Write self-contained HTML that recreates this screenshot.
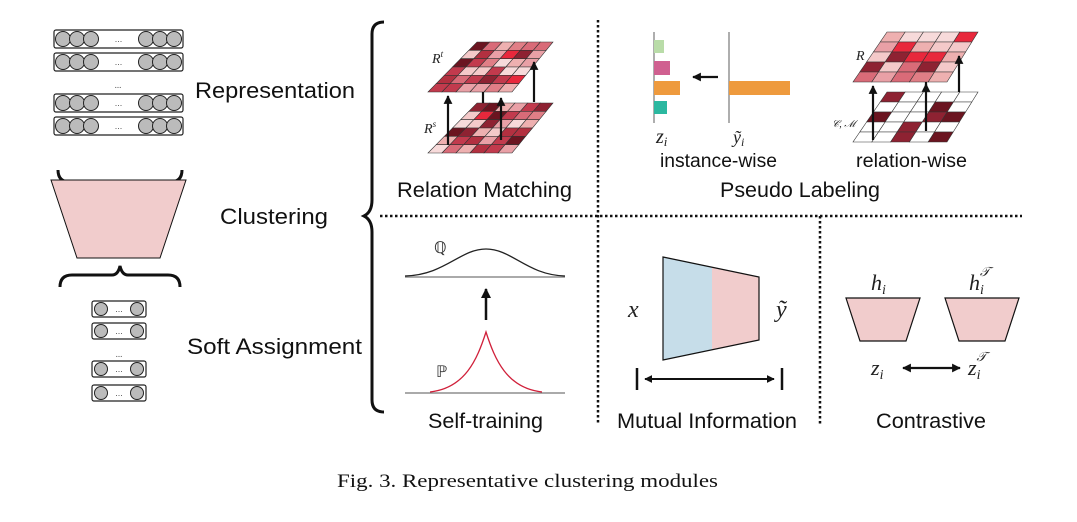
<!DOCTYPE html>
<html><head><meta charset="utf-8"><style>
html,body{margin:0;padding:0;background:#fff;}
svg{display:block;}
.s{font-family:"Liberation Sans",sans-serif;fill:#111;}
.m{font-family:"Liberation Serif",serif;font-style:italic;fill:#222;}
</style></head><body>
<svg id="g" width="1077" height="522" viewBox="0 0 1077 522" xmlns="http://www.w3.org/2000/svg">
<defs>
<marker id="ah" viewBox="0 0 10 10" refX="9" refY="5" markerWidth="4" markerHeight="4" orient="auto-start-reverse"><path d="M0,0 L10,5 L0,10 z" fill="#111"/></marker>
</defs>
<g id="grids"></g>
<g id="nodes"></g>
<path d="M58,170 Q58,182 70,182 L112,182 Q118,182 120,192 Q122,182 128,182 L170,182 Q182,182 182,170" fill="none" stroke="#111" stroke-width="3"/>
<path d="M60,287 Q60,275 72,275 L112,275 Q118,275 120,266 Q122,275 128,275 L168,275 Q180,275 180,287" fill="none" stroke="#111" stroke-width="3"/>
<polygon points="51,180 186,180 160,258 77,258" fill="#f1cccc" stroke="#111" stroke-width="1"/>
<path d="M384,22 Q372,22 372,34 L372,200 Q372,212 364,216 Q372,220 372,232 L372,400 Q372,412 384,412" fill="none" stroke="#111" stroke-width="3"/>
<line x1="598" y1="20" x2="598" y2="425" stroke="#111" stroke-width="2.5" stroke-dasharray="2.5,2.5"/>
<line x1="380" y1="216" x2="1022" y2="216" stroke="#111" stroke-width="2.5" stroke-dasharray="2.5,2.5"/>
<line x1="820" y1="216" x2="820" y2="425" stroke="#111" stroke-width="2.5" stroke-dasharray="2.5,2.5"/>
<text class="s" x="195" y="98" font-size="22" textLength="160" lengthAdjust="spacingAndGlyphs">Representation</text>
<text class="s" x="220" y="224" font-size="22" textLength="108" lengthAdjust="spacingAndGlyphs">Clustering</text>
<text class="s" x="187" y="354" font-size="22" textLength="175" lengthAdjust="spacingAndGlyphs">Soft Assignment</text>
<line x1="654" y1="32" x2="654" y2="123" stroke="#777" stroke-width="1.2"/>
<rect x="654" y="40" width="10" height="13" fill="#b9dca8"/>
<rect x="654" y="61" width="16" height="14" fill="#d06090"/>
<rect x="654" y="81" width="26" height="14" fill="#ee9a3d"/>
<rect x="654" y="101" width="13" height="13" fill="#2bb8a0"/>
<line x1="729" y1="32" x2="729" y2="123" stroke="#777" stroke-width="1.2"/>
<rect x="729" y="81" width="61" height="14" fill="#ee9a3d"/>
<line x1="718" y1="77" x2="693" y2="77" stroke="#111" stroke-width="2.2" marker-end="url(#ah)"/>
<text class="m" x="656" y="143" font-size="20">z<tspan font-size="13" dy="3">i</tspan></text>
<text class="m" x="733" y="143" font-size="18">ỹ<tspan font-size="12" dy="3">i</tspan></text>
<text class="s" x="660" y="167" font-size="19" textLength="117" lengthAdjust="spacingAndGlyphs">instance-wise</text>
<text class="s" x="856" y="167" font-size="19" textLength="111" lengthAdjust="spacingAndGlyphs">relation-wise</text>
<text class="s" x="720" y="197" font-size="21" textLength="160" lengthAdjust="spacingAndGlyphs">Pseudo Labeling</text>
<text class="s" x="397" y="197" font-size="21" textLength="175" lengthAdjust="spacingAndGlyphs">Relation Matching</text>
<text class="m" x="432" y="63" font-size="14">R<tspan font-size="9" dy="-6">t</tspan></text>
<text class="m" x="424" y="133" font-size="14">R<tspan font-size="9" dy="-6">s</tspan></text>
<text class="m" x="856" y="60" font-size="14">R</text>
<text class="m" x="832" y="127" font-size="10">𝒞, ℳ</text>
<line x1="405" y1="277" x2="565" y2="277" stroke="#777" stroke-width="1.2"/>
<path d="M405,276 C445,275 460,249 486,249 C512,249 527,275 565,276" fill="none" stroke="#222" stroke-width="1.3"/>
<text x="434" y="253" font-size="16" font-family="Liberation Serif" fill="#333">ℚ</text>
<line x1="486" y1="320" x2="486" y2="289" stroke="#111" stroke-width="2.5" marker-end="url(#ah)"/>
<line x1="405" y1="393" x2="565" y2="393" stroke="#777" stroke-width="1.2"/>
<path d="M430,392 C465,388 477,360 486,332 C495,360 507,388 542,392" fill="none" stroke="#d0203a" stroke-width="1.3"/>
<text x="436" y="377" font-size="16" font-family="Liberation Serif" fill="#333">ℙ</text>
<text class="s" x="428" y="428" font-size="21" textLength="115" lengthAdjust="spacingAndGlyphs">Self-training</text>
<polygon points="663,257 712,267 712,350 663,360" fill="#c6dde9"/>
<polygon points="712,267 759,277 759,340 712,350" fill="#f1cccc"/>
<polygon points="663,257 759,277 759,340 663,360" fill="none" stroke="#111" stroke-width="1.2"/>
<text class="m" x="628" y="317" font-size="24">x</text>
<text class="m" x="776" y="317" font-size="24">ỹ</text>
<line x1="637" y1="368" x2="637" y2="390" stroke="#111" stroke-width="2.5"/>
<line x1="782" y1="368" x2="782" y2="390" stroke="#111" stroke-width="2.5"/>
<line x1="645" y1="379" x2="774" y2="379" stroke="#111" stroke-width="2" marker-start="url(#ah)" marker-end="url(#ah)"/>
<text class="s" x="617" y="428" font-size="21" textLength="180" lengthAdjust="spacingAndGlyphs">Mutual Information</text>
<polygon points="846,298 920,298 906,341 860,341" fill="#f1cccc" stroke="#111" stroke-width="1.2"/>
<polygon points="945,298 1019,298 1005,341 959,341" fill="#f1cccc" stroke="#111" stroke-width="1.2"/>
<text class="m" x="871" y="290" font-size="22">h<tspan font-size="14" dy="4">i</tspan></text>
<text class="m" x="969" y="290" font-size="22">h<tspan font-size="14" dy="4">i</tspan><tspan font-size="13" dx="-4" dy="-18">𝒯</tspan></text>
<text class="m" x="871" y="375" font-size="22">z<tspan font-size="14" dy="4">i</tspan></text>
<text class="m" x="968" y="375" font-size="22">z<tspan font-size="14" dy="4">i</tspan><tspan font-size="13" dx="-4" dy="-18">𝒯</tspan></text>
<line x1="903" y1="368" x2="960" y2="368" stroke="#111" stroke-width="2.2" marker-start="url(#ah)" marker-end="url(#ah)"/>
<text class="s" x="876" y="428" font-size="21" textLength="110" lengthAdjust="spacingAndGlyphs">Contrastive</text>
<text x="337" y="487" font-size="19" font-family="Liberation Serif" fill="#111" textLength="381" lengthAdjust="spacingAndGlyphs">Fig. 3.  Representative clustering modules</text>
<g id="arrows"></g>
</svg>
<script>
var NS="http://www.w3.org/2000/svg";
function el(p,t,a){var e=document.createElementNS(NS,t);for(var k in a)e.setAttribute(k,a[k]);p.appendChild(e);return e;}
var seed=7;function rnd(){seed=(seed*9301+49297)%233280;return seed/233280;}
var reds=["#f4c9c9","#eeb0b0","#e9a0a6","#d96b78","#c23a4d","#8e2232","#6b1420","#f7dada","#e07e86","#e8283c","#b33040"];
var G=document.getElementById("grids");
function grid(tlx,trx,blx,brx,ty,by,n,m,mode){
 for(var i=0;i<n;i++)for(var j=0;j<m;j++){
  function pt(u,v){var y=ty+(by-ty)*v;var l=tlx+(blx-tlx)*v,r=trx+(brx-trx)*v;return [l+(r-l)*u,y];}
  var a=pt(j/m,i/n),b=pt((j+1)/m,i/n),c=pt((j+1)/m,(i+1)/n),d=pt(j/m,(i+1)/n);
  var col;
  if(mode==1){col=rnd()<0.35?(rnd()<0.5?"#6b1420":"#8e2232"):"#ffffff";}
  else col=reds[Math.floor(rnd()*reds.length)];
  el(G,"polygon",{points:[a,b,c,d].map(function(p){return p.join(",")}).join(" "),fill:col,stroke:"#333","stroke-width":0.6});
 }
}
grid(477,553,428,512,103,153,6,6,0);
grid(477,553,428,512,42,92,6,6,0);
grid(887,978,853,947,92,142,5,5,1);
grid(887,978,853,947,32,82,5,5,0);
var A=document.getElementById("arrows");
function arr(x,y1,y2){el(A,"line",{x1:x,y1:y1,x2:x,y2:y2,stroke:"#111","stroke-width":2.2,"marker-end":"url(#ah)"});}
function stub(x,y1,y2){el(A,"line",{x1:x,y1:y1,x2:x,y2:y2,stroke:"#111","stroke-width":2.2});}
arr(448,145,96);stub(483,103,92);arr(501,140,98);arr(534,102,62);
arr(873,140,86);stub(926,92,82);arr(926,131,84);arr(959,92,56);
var N=document.getElementById("nodes");
function row(x,y,w,h,big){
 el(N,"rect",{x:x,y:y,width:w,height:h,rx:2,fill:"#fff",stroke:"#222","stroke-width":1.2});
 var r=h/2-1.5,cy=y+h/2;
 if(big){var xs=[x+9,x+23,x+37,x+w-37,x+w-23,x+w-9];
  xs.forEach(function(cx){el(N,"circle",{cx:cx,cy:cy,r:r,fill:"#bbb",stroke:"#222","stroke-width":1});});
  el(N,"text",{x:x+w/2,y:cy+3,"font-size":9,"text-anchor":"middle",fill:"#555","font-family":"Liberation Sans"}).textContent="...";}
 else{el(N,"circle",{cx:x+9,cy:cy,r:r,fill:"#bbb",stroke:"#222","stroke-width":1});
  el(N,"circle",{cx:x+w-9,cy:cy,r:r,fill:"#bbb",stroke:"#222","stroke-width":1});
  el(N,"text",{x:x+w/2,y:cy+3,"font-size":9,"text-anchor":"middle",fill:"#555","font-family":"Liberation Sans"}).textContent="...";}
}
row(54,30,129,18,1);row(54,53,129,18,1);row(54,94,129,18,1);row(54,117,129,18,1);
el(N,"text",{x:118,y:88,"font-size":9,"text-anchor":"middle",fill:"#555"}).textContent="...";
row(92,301,54,16,0);row(92,323,54,16,0);row(92,361,54,16,0);row(92,385,54,16,0);
el(N,"text",{x:119,y:357,"font-size":9,"text-anchor":"middle",fill:"#555"}).textContent="...";
</script>
</body></html>
